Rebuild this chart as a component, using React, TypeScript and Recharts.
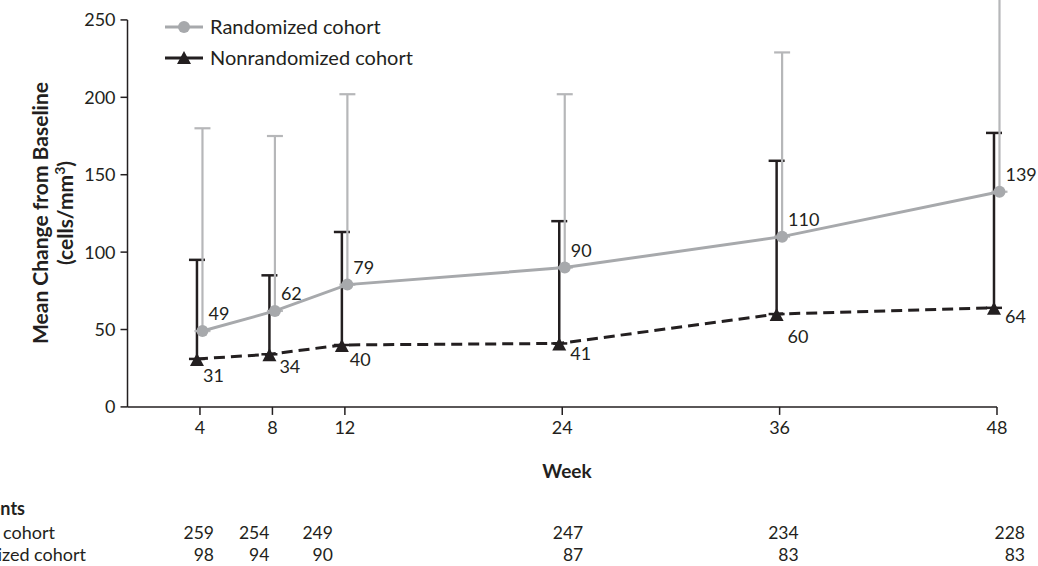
import { LineChart, Line, XAxis, YAxis, ErrorBar, ReferenceLine, LabelList } from 'recharts'

const weeks = [4, 8, 12, 24, 36, 48]
const randomizedMean = [49, 62, 79, 90, 110, 139]
const randomizedSd = [131, 113, 123, 112, 119, 140]
const nonrandomizedMean = [31, 34, 40, 41, 60, 64]
const nonrandomizedSd = [64, 51, 73, 79, 99, 113]
const randomizedAtRisk = [259, 254, 249, 247, 234, 228]
const nonrandomizedAtRisk = [98, 94, 90, 87, 83, 83]
const yTicks = [0, 50, 100, 150, 200, 250]

const data = weeks.map((week, i) => ({
  week,
  rand: randomizedMean[i],
  randErr: [0, randomizedSd[i]],
  non: nonrandomizedMean[i],
  nonErr: [0, nonrandomizedSd[i]],
}))

// page geometry (px)
const PLOT_LEFT = 127.5
const PLOT_RIGHT = 997
const PLOT_BOTTOM = 406.5
const PX_PER_UNIT = 1.548
const Y_MAX = 290
const PLOT_TOP = PLOT_BOTTOM - Y_MAX * PX_PER_UNIT
const X_AXIS_H = 30
const CHART_H = 566 - PLOT_TOP
const PX_PER_WEEK = (PLOT_RIGHT - PLOT_LEFT) / 48
const weekX = (w: number) => PLOT_LEFT + w * PX_PER_WEEK

// hand placement of the value labels and table columns, as in the original figure
const blackLabelNudge = [
  [6, 23], [10, 19], [8, 21], [11, 17], [11, 29], [11, 15],
]
const tableColumnNudge = [14, -3, -12, 21, 19, 28]

const INK = '#231f20'
const GRAY = '#a7a9ac'
const GRAY_BAR = '#b6b7b9'
const FONT = 'Lato, "Open Sans", sans-serif'

function Triangle(props: any) {
  const { cx, cy, index } = props
  if (cx == null || cy == null) return null
  return (
    <path
      key={`tri-${index}`}
      d={`M${cx},${cy - 6} L${cx + 7},${cy + 7} L${cx - 7},${cy + 7} Z`}
      fill={INK}
    />
  )
}

function GrayLabel(props: any) {
  const { x, y, value } = props
  return (
    <text x={x + 6} y={y - 11} fontSize={18} fill={INK} fontFamily={FONT}>
      {value}
    </text>
  )
}

function BlackLabel(props: any) {
  const { x, y, value, index } = props
  const [dx, dy] = blackLabelNudge[index] ?? [9, 19]
  return (
    <text x={x + dx} y={y + dy} fontSize={18} fill={INK} fontFamily={FONT}>
      {value}
    </text>
  )
}

function Overlay() {
  const yMid = (PLOT_BOTTOM + (PLOT_BOTTOM - 250 * PX_PER_UNIT)) / 2
  return (
    <svg
      width={1038}
      height={566}
      style={{ position: 'absolute', left: 0, top: 0, pointerEvents: 'none' }}
      fontFamily={FONT}
    >
      {/* legend */}
      <line x1={165} x2={203} y1={27} y2={27} stroke={GRAY} strokeWidth={3} />
      <circle cx={184} cy={27} r={6} fill={GRAY} />
      <text x={210} y={34} fontSize={20} fill={INK}>Randomized cohort</text>
      <line x1={165} x2={203} y1={58} y2={58} stroke={INK} strokeWidth={3} />
      <path d="M184,51 L191,64 L177,64 Z" fill={INK} />
      <text x={210} y={65} fontSize={20} fill={INK}>Nonrandomized cohort</text>

      {/* y-axis title */}
      <text
        transform={`translate(48, ${yMid}) rotate(-90)`}
        textAnchor="middle"
        fontSize={21}
        fontWeight={700}
        fill={INK}
      >
        Mean Change from Baseline
      </text>
      <text
        transform={`translate(73, ${yMid}) rotate(-90)`}
        textAnchor="middle"
        fontSize={21}
        fontWeight={700}
        fill={INK}
      >
        (cells/mm<tspan dy={-8} fontSize={14}>3</tspan><tspan dy={8}>)</tspan>
      </text>

      {/* x-axis title */}
      <text x={567} y={478} textAnchor="middle" fontSize={19} fontWeight={700} fill={INK}>
        Week
      </text>

      {/* numbers of patients */}
      <text x={25} y={515} textAnchor="end" fontSize={18} fontWeight={700} fill={INK}>
        No. of Patients
      </text>
      <text x={55} y={539} textAnchor="end" fontSize={18} fill={INK}>
        Randomized cohort
      </text>
      <text x={86} y={561} textAnchor="end" fontSize={18} fill={INK}>
        Nonrandomized cohort
      </text>
      {weeks.map((w, i) => (
        <text key={`r-${w}`} x={weekX(w) + tableColumnNudge[i]} y={539} textAnchor="end" fontSize={17.5} fill={INK}>
          {randomizedAtRisk[i]}
        </text>
      ))}
      {weeks.map((w, i) => (
        <text key={`n-${w}`} x={weekX(w) + tableColumnNudge[i]} y={561} textAnchor="end" fontSize={17.5} fill={INK}>
          {nonrandomizedAtRisk[i]}
        </text>
      ))}
    </svg>
  )
}

export default function App() {
  return (
    <div style={{ position: 'absolute', left: 0, top: 0, width: 1038, height: 566, overflow: 'hidden', background: '#fff' }}>
      <div style={{ position: 'absolute', left: 0, top: PLOT_TOP }}>
        <LineChart
          width={1038}
          height={CHART_H}
          data={data}
          margin={{ top: 0, right: 1038 - PLOT_RIGHT, bottom: CHART_H - (PLOT_BOTTOM - PLOT_TOP) - X_AXIS_H, left: PLOT_LEFT - 60 }}
        >
          <XAxis
            xAxisId="main"
            dataKey="week"
            type="number"
            domain={[0, 48]}
            ticks={weeks}
            height={X_AXIS_H}
            tickSize={8}
            tickMargin={6}
            stroke={INK}
            strokeWidth={1.5}
            tick={{ fill: INK, fontSize: 18, fontFamily: FONT }}
          />
          <XAxis xAxisId="rand" dataKey="week" type="number" domain={[0, 48]} hide padding={{ left: 2.5, right: -2.5 }} />
          <XAxis xAxisId="non" dataKey="week" type="number" domain={[0, 48]} hide padding={{ left: -3, right: 3 }} />
          <YAxis
            type="number"
            domain={[0, Y_MAX]}
            ticks={yTicks}
            width={60}
            axisLine={false}
            tickSize={7}
            tickMargin={5}
            stroke={INK}
            strokeWidth={1.5}
            tick={{ fill: INK, fontSize: 18, fontFamily: FONT }}
          />
          <ReferenceLine
            xAxisId="main"
            segment={[{ x: 0, y: 0 }, { x: 0, y: 250 }]}
            stroke={INK}
            strokeWidth={1.5}
            ifOverflow="visible"
          />
          <Line
            xAxisId="non"
            dataKey="non"
            type="linear"
            stroke={INK}
            strokeWidth={3}
            strokeDasharray="11 6"
            dot={(p: any) => <Triangle {...p} />}
            activeDot={false}
            isAnimationActive={false}
          >
            <ErrorBar dataKey="nonErr" direction="y" width={8} stroke={INK} strokeWidth={2.5} />
            <LabelList dataKey="non" content={(p: any) => <BlackLabel {...p} />} />
          </Line>
          <Line
            xAxisId="rand"
            dataKey="rand"
            type="linear"
            stroke={GRAY}
            strokeWidth={3}
            dot={{ r: 6, fill: GRAY, stroke: 'none' }}
            activeDot={false}
            isAnimationActive={false}
          >
            <ErrorBar dataKey="randErr" direction="y" width={8} stroke={GRAY_BAR} strokeWidth={2.2} />
            <LabelList dataKey="rand" content={(p: any) => <GrayLabel {...p} />} />
          </Line>
        </LineChart>
      </div>
      <Overlay />
    </div>
  )
}
